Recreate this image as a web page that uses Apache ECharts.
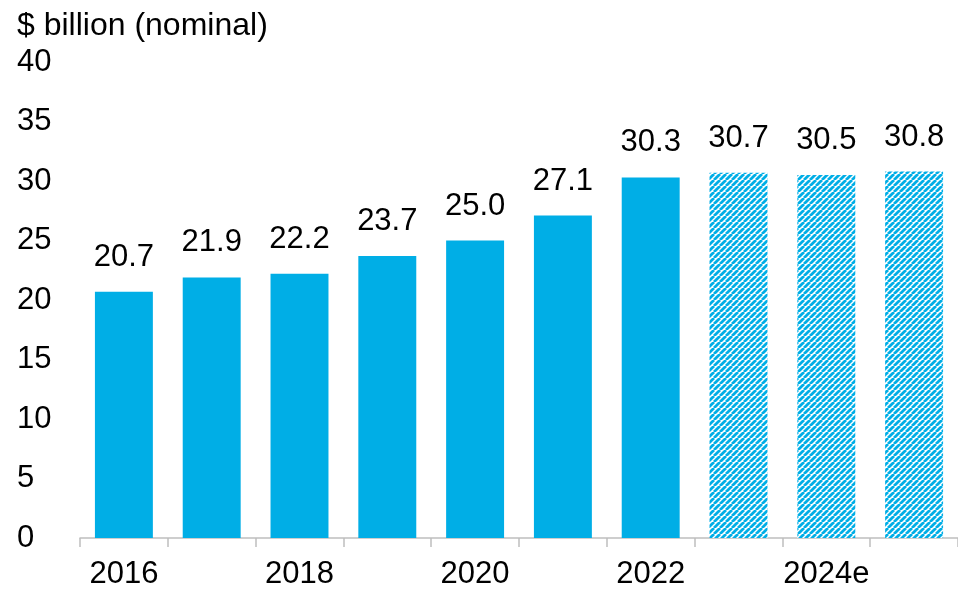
<!DOCTYPE html>
<html>
<head>
<meta charset="utf-8">
<script src="https://cdn.jsdelivr.net/npm/echarts@6/dist/echarts.min.js"></script>
<style>
  html, body { margin: 0; padding: 0; background: #fff; }
  #chart { width: 958px; height: 590px; }
</style>
</head>
<body>
<div id="chart"></div>
<script>
// Annual values, $ billion (nominal); last three are estimates
const years = ['2016', '2017', '2018', '2019', '2020', '2021', '2022', '2023', '2024e', '2025e'];
const values = [20.7, 21.9, 22.2, 23.7, 25.0, 27.1, 30.3, 30.7, 30.5, 30.8];
const estimated = [false, false, false, false, false, false, false, true, true, true];
const yTicks = [0, 5, 10, 15, 20, 25, 30, 35, 40];

const BLUE = '#00AEE6';
const FONT = 'Liberation Sans, Arial, sans-serif';
const FS = 31;

// Diagonal hatch tile for estimated bars
function hatchTile() {
  const c = document.createElement('canvas');
  const s = 6;
  c.width = s; c.height = s;
  const g = c.getContext('2d');
  g.fillStyle = '#ffffff';
  g.fillRect(0, 0, s, s);
  g.strokeStyle = BLUE;
  g.lineWidth = 2.8;
  g.beginPath();
  for (let k = -1; k <= 1; k++) {
    g.moveTo(k * s, s);
    g.lineTo(k * s + s, 0);
  }
  g.stroke();
  return c;
}
const hatch = { image: hatchTile(), repeat: 'repeat' };

const chart = echarts.init(document.getElementById('chart'));
chart.setOption({
  animation: false,
  textStyle: { fontFamily: FONT },
  graphic: [{
    type: 'text', left: 17, top: 10,
    style: { text: '$ billion (nominal)', fontSize: 32, fill: '#000', fontFamily: FONT }
  }],
  grid: { left: 80, top: 62, width: 882, height: 479, containLabel: false },
  xAxis: {
    type: 'category',
    data: years,
    axisLine: { lineStyle: { color: '#bfbfbf', width: 1.5 } },
    axisTick: { show: true, interval: 0, length: 9, lineStyle: { color: '#bfbfbf', width: 1.5 } },
    axisLabel: { interval: 1, fontSize: FS, color: '#000', margin: 21 }
  },
  yAxis: {
    type: 'value',
    min: yTicks[0], max: yTicks[yTicks.length - 1], interval: 5,
    axisLine: { show: false },
    axisTick: { show: false },
    splitLine: { show: false },
    axisLabel: { fontSize: FS, color: '#000', align: 'left', margin: 63 }
  },
  series: [{
    type: 'bar',
    barWidth: '66%',
    data: values.map((v, i) => ({
      value: v,
      itemStyle: { color: estimated[i] ? hatch : BLUE }
    })),
    label: {
      show: true, position: 'top', distance: 19,
      fontSize: FS, color: '#000',
      formatter: p => p.value.toFixed(1)
    }
  }]
});
</script>
</body>
</html>
